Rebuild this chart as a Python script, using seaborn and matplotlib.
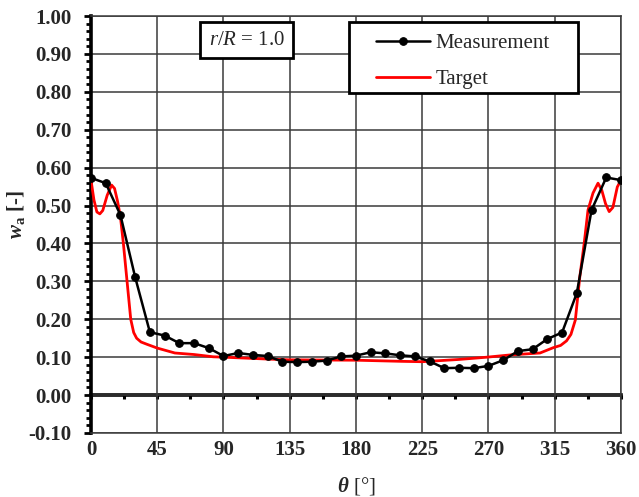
import numpy as np
import pandas as pd
import matplotlib
matplotlib.use("Agg")
import matplotlib.pyplot as plt
from matplotlib.patches import Rectangle
from matplotlib.ticker import MultipleLocator, FixedLocator, FormatStrFormatter
import seaborn as sns

# Measured axial velocity at r/R = 1.0, every 10 degrees
theta_meas = [0, 10, 20, 30, 40, 50, 60, 70, 80, 90, 100, 110, 120, 130, 140, 150,
              160, 170, 180, 190, 200, 210, 220, 230, 240, 250, 260, 270, 280, 290,
              300, 310, 320, 330, 340, 350, 360]
wa_meas = [0.573, 0.559, 0.475, 0.311, 0.166, 0.157, 0.137, 0.137, 0.124, 0.103,
           0.111, 0.106, 0.103, 0.088, 0.087, 0.088, 0.091, 0.102, 0.104, 0.113,
           0.110, 0.105, 0.102, 0.089, 0.071, 0.072, 0.071, 0.077, 0.092, 0.116,
           0.121, 0.148, 0.165, 0.269, 0.488, 0.574, 0.567]

# Target wake distribution
theta_target = [0, 2, 4, 6, 8, 11, 14, 16, 18, 20, 22, 23.5, 25, 27, 29, 31, 34, 38,
                45, 57, 70, 83, 90, 120, 135, 180, 211, 225, 250, 269, 285, 305,
                314, 319, 323, 326, 329, 332, 335, 337.6, 341, 344.4, 347, 349.5,
                352, 354.5, 357.5, 360]
wa_target = [0.567, 0.515, 0.483, 0.478, 0.487, 0.527, 0.554, 0.545, 0.512, 0.47,
             0.40, 0.34, 0.28, 0.20, 0.165, 0.15, 0.14, 0.134, 0.124, 0.111, 0.107,
             0.101, 0.100, 0.095, 0.093, 0.092, 0.089, 0.088, 0.094, 0.100, 0.106,
             0.111, 0.125, 0.131, 0.143, 0.160, 0.198, 0.311, 0.40, 0.488, 0.533,
             0.559, 0.54, 0.505, 0.484, 0.495, 0.549, 0.567]

x_ticks = [0, 45, 90, 135, 180, 225, 270, 315, 360]

meas = pd.DataFrame({"theta": theta_meas, "wa": wa_meas})
target = pd.DataFrame({"theta": theta_target, "wa": wa_target})

sns.set_theme(style="white")
plt.rcParams["font.family"] = ["Liberation Serif", "DejaVu Serif"]
plt.rcParams["mathtext.fontset"] = "custom"
plt.rcParams["mathtext.rm"] = "Liberation Serif"
plt.rcParams["mathtext.it"] = "Liberation Serif:italic"
plt.rcParams["mathtext.bf"] = "Liberation Serif:bold"
plt.rcParams["mathtext.bfit"] = "Liberation Serif:italic:bold"

fig = plt.figure(figsize=(6.39, 4.97), dpi=100)
ax = fig.add_axes([0.1424, 0.1288, 0.8294, 0.839])

sns.lineplot(data=target, x="theta", y="wa", ax=ax, color="#ff0000", lw=2.0,
             estimator=None, sort=False, label="Target", zorder=4)
sns.lineplot(data=meas, x="theta", y="wa", ax=ax, color="black", lw=1.8,
             marker="o", markersize=5.5, markeredgecolor="black",
             estimator=None, sort=False, label="Measurement", zorder=5)

ax.set_xlim(0, 360)
ax.set_ylim(-0.10, 1.00)
ax.xaxis.set_major_locator(FixedLocator(x_ticks))
ax.yaxis.set_major_locator(MultipleLocator(0.1))
ax.yaxis.set_minor_locator(MultipleLocator(0.02))
ax.yaxis.set_major_formatter(FormatStrFormatter("%.2f"))
ax.grid(True, which="major", color="#3a3a3a", lw=1.1)
ax.set_axisbelow(True)

for lab in ax.get_xticklabels() + ax.get_yticklabels():
    lab.set_fontweight("bold")
    lab.set_fontsize(15)

ax.tick_params(axis="x", which="both", length=0, pad=5)
ax.tick_params(axis="y", which="major", direction="out", length=5, width=2,
               color="black", pad=9, left=True)
ax.tick_params(axis="y", which="minor", direction="out", length=3.5, width=2,
               color="black", left=True)

for side in ("top", "right", "bottom"):
    ax.spines[side].set_color("#3a3a3a")
    ax.spines[side].set_linewidth(1.1)
ax.spines["left"].set_color("black")
ax.spines["left"].set_linewidth(2.6)

# Thick zero line carrying the angular ticks
zero_ax = ax.secondary_xaxis(1 / 11)
zero_ax.xaxis.set_major_locator(MultipleLocator(22.5))
zero_ax.tick_params(direction="out", length=3, width=2.2, color="black",
                    labelbottom=False, labeltop=False)
zero_ax.spines["bottom"].set_linewidth(2.6)
zero_ax.spines["bottom"].set_color("black")

ax.set_xlabel(r"$\mathbfit{\theta}$ [°]", fontsize=15, labelpad=11)
ax.set_ylabel(r"$\mathbfit{w}_{\mathbf{a}}$ [-]", fontsize=15, fontweight="bold")
ax.yaxis.set_label_coords(-0.12, 0.523)

ax.text(0.294, 0.942, r"$r/R$ = 1.0", transform=ax.transAxes, fontsize=15,
        ha="center", va="center",
        bbox=dict(boxstyle="square,pad=0.4", fc="white", ec="black", lw=2))

# Legend frame drawn separately so the entries sit with wide side margins
ax.add_patch(Rectangle((0.4868, 0.8153), 0.4321, 0.1703, transform=ax.transAxes,
                       fc="white", ec="black", lw=2, zorder=9))
handles, labels = ax.get_legend_handles_labels()
order = [labels.index("Measurement"), labels.index("Target")]
leg = ax.legend([handles[i] for i in order], [labels[i] for i in order],
                loc="upper left", bbox_to_anchor=(0.5377, 0.958), fontsize=15,
                frameon=False, handlelength=2.6, handletextpad=0.25,
                borderpad=0, labelspacing=0.8, borderaxespad=0)
leg.set_zorder(10)

fig.savefig("out.png", dpi=100)
